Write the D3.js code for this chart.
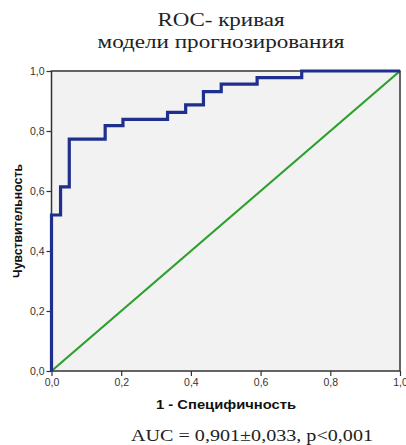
<!DOCTYPE html>
<html>
<head>
<meta charset="utf-8">
<script src="https://cdn.jsdelivr.net/npm/d3@7"></script>
<style>
  body { margin: 0; background: #fff; }
  .tick text { font-family: "Liberation Sans", Arial, sans-serif; font-size: 10.5px; fill: #333; }
</style>
</head>
<body>
<svg id="chart"></svg>
<script>
// ROC curve step points (1 - specificity, sensitivity)
var fpr = [0, 0, 0.026, 0.026, 0.051, 0.051, 0.154, 0.154, 0.205, 0.205, 0.333, 0.333, 0.385, 0.385, 0.436, 0.436, 0.487, 0.487, 0.59, 0.59, 0.718, 0.718, 1];
var tpr = [0, 0.52, 0.52, 0.614, 0.614, 0.773, 0.773, 0.818, 0.818, 0.839, 0.839, 0.862, 0.862, 0.887, 0.887, 0.931, 0.931, 0.956, 0.956, 0.978, 0.978, 1, 1];
var refLine = [0, 1];
var tickVals = [0, 0.2, 0.4, 0.6, 0.8, 1.0];
var titleLines = ["ROC- кривая", "модели прогнозирования"];
var xLabel = "1 - Специфичность";
var yLabel = "Чувствительность";
var footnote = "AUC = 0,901±0,033, p<0,001";

var W = 406, H = 445;
var margin = { left: 51.5, right: 6, top: 71, bottom: 74 };
var width = W - margin.left - margin.right,
  height = H - margin.top - margin.bottom;

var svg = d3.select("#chart").attr("width", W).attr("height", H);

var x = d3.scaleLinear().domain([0, 1]).range([0, width]);
var y = d3.scaleLinear().domain([0, 1]).range([height, 0]);
var fmt = function (d) { return d3.format(".1f")(d).replace(".", ","); };

// title (the source text is a bit stretched, so fit to measured widths)
var titleWidths = [127, 247];
svg.selectAll(".title")
  .data(titleLines)
  .enter()
  .append("text")
  .attr("class", "title")
  .attr("x", 221)
  .attr("y", (d, i) => 26 + i * 22)
  .attr("text-anchor", "middle")
  .attr("textLength", (d, i) => titleWidths[i])
  .attr("lengthAdjust", "spacingAndGlyphs")
  .style("font-family", "'Liberation Serif', 'Times New Roman', serif")
  .style("font-size", "18.5px")
  .style("fill", "#222")
  .text((d) => d);

var g = svg.append("g").attr("transform", `translate(${margin.left},${margin.top})`);

g.append("rect")
  .attr("width", width)
  .attr("height", height)
  .style("fill", "#f2f2f2");

// axes
var yAxis = g.append("g").call(d3.axisLeft(y).tickValues(tickVals).tickFormat(fmt).tickSize(5).tickPadding(2));
var xAxis = g.append("g")
  .attr("transform", `translate(0,${height})`)
  .call(d3.axisBottom(x).tickValues(tickVals).tickFormat(fmt).tickSize(5).tickPadding(3));
[xAxis, yAxis].forEach(function (a) {
  a.select(".domain").remove();
  a.selectAll(".tick line").style("stroke", "#333").style("stroke-width", 1.2);
});

// reference diagonal
g.append("line")
  .attr("x1", x(refLine[0])).attr("y1", y(refLine[0]))
  .attr("x2", x(refLine[1])).attr("y2", y(refLine[1]))
  .style("stroke", "#2ca02c")
  .style("stroke-width", 2.2);

// frame
g.append("rect")
  .attr("width", width)
  .attr("height", height)
  .style("fill", "none")
  .style("stroke", "#333")
  .style("stroke-width", 1.5);

// ROC curve
var line = d3.line()
  .x((d, i) => x(fpr[i]))
  .y((d, i) => y(tpr[i]));
g.append("path")
  .datum(fpr)
  .attr("d", line)
  .style("fill", "none")
  .style("stroke", "#1f2f8c")
  .style("stroke-width", 3.2)
  .style("stroke-linejoin", "miter");

// axis labels
svg.append("text")
  .attr("x", 226)
  .attr("y", 409)
  .attr("text-anchor", "middle")
  .attr("textLength", 140)
  .attr("lengthAdjust", "spacingAndGlyphs")
  .style("font-family", "'Liberation Sans', Arial, sans-serif")
  .style("font-weight", "bold")
  .style("font-size", "12.5px")
  .style("fill", "#111")
  .text(xLabel);

svg.append("text")
  .attr("transform", `translate(22,${margin.top + height / 2}) rotate(-90)`)
  .attr("text-anchor", "middle")
  .attr("textLength", 114)
  .attr("lengthAdjust", "spacingAndGlyphs")
  .style("font-family", "'Liberation Sans', Arial, sans-serif")
  .style("font-weight", "bold")
  .style("font-size", "12.5px")
  .style("fill", "#111")
  .text(yLabel);

// footnote
svg.append("text")
  .attr("x", 252)
  .attr("y", 441)
  .attr("text-anchor", "middle")
  .attr("textLength", 242)
  .attr("lengthAdjust", "spacingAndGlyphs")
  .style("font-family", "'Liberation Serif', 'Times New Roman', serif")
  .style("font-size", "17px")
  .style("fill", "#222")
  .text(footnote);
</script>
</body>
</html>
